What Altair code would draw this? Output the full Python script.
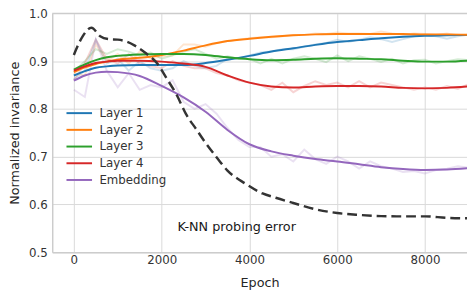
import altair as alt
import pandas as pd

series_names = ["Layer 1", "Layer 2", "Layer 3", "Layer 4", "Embedding"]
series_colors = ["#1f77b4", "#ff7f0e", "#2ca02c", "#d62728", "#9467bd"]

# smoothed curves
smooth_epochs = [0, 250, 500, 750, 1000, 1500, 2000, 2500, 3000, 3500, 4000,
                 4500, 5000, 5500, 6000, 6500, 7000, 7500, 8000, 8500, 9000]
smooth_layer1 = [0.870, 0.879, 0.886, 0.889, 0.891, 0.892, 0.892, 0.892, 0.896, 0.903, 0.911,
                 0.920, 0.927, 0.934, 0.940, 0.944, 0.948, 0.951, 0.953, 0.954, 0.955]
smooth_layer2 = [0.877, 0.887, 0.894, 0.899, 0.903, 0.907, 0.913, 0.922, 0.933, 0.942, 0.947,
                 0.951, 0.954, 0.956, 0.957, 0.957, 0.957, 0.957, 0.956, 0.956, 0.955]
smooth_layer3 = [0.882, 0.893, 0.902, 0.908, 0.911, 0.914, 0.915, 0.915, 0.913, 0.908, 0.904,
                 0.902, 0.903, 0.905, 0.906, 0.905, 0.904, 0.901, 0.899, 0.899, 0.901]
smooth_layer4 = [0.880, 0.889, 0.896, 0.899, 0.901, 0.901, 0.899, 0.895, 0.888, 0.870, 0.855,
                 0.847, 0.845, 0.847, 0.848, 0.848, 0.847, 0.844, 0.843, 0.844, 0.847]
smooth_embed = [0.859, 0.870, 0.876, 0.878, 0.877, 0.869, 0.848, 0.824, 0.794, 0.756, 0.726,
                0.711, 0.702, 0.695, 0.690, 0.684, 0.678, 0.674, 0.672, 0.673, 0.676]

# raw (noisy) curves
raw_epochs = [0, 250, 500, 750, 1000, 1250, 1500, 1750, 2000, 2250, 2500, 2750, 3000,
              3250, 3500, 3750, 4000, 4250, 4500, 4750, 5000, 5250, 5500, 5750, 6000,
              6250, 6500, 6750, 7000, 7250, 7500, 7750, 8000, 8250, 8500, 8750, 9000]
raw_layer1 = [0.862, 0.880, 0.945, 0.895, 0.905, 0.880, 0.900, 0.885, 0.880, 0.885, 0.900,
              0.890, 0.885, 0.890, 0.905, 0.905, 0.912, 0.918, 0.920, 0.925, 0.925, 0.930,
              0.935, 0.938, 0.945, 0.940, 0.945, 0.950, 0.946, 0.940, 0.946, 0.952, 0.955,
              0.952, 0.947, 0.952, 0.956]
raw_layer2 = [0.875, 0.870, 0.935, 0.900, 0.915, 0.895, 0.920, 0.905, 0.910, 0.912, 0.935,
              0.935, 0.930, 0.938, 0.942, 0.945, 0.948, 0.950, 0.950, 0.952, 0.955, 0.955,
              0.958, 0.957, 0.960, 0.958, 0.958, 0.957, 0.962, 0.958, 0.955, 0.958, 0.957,
              0.955, 0.958, 0.954, 0.955]
raw_layer3 = [0.878, 0.900, 0.925, 0.915, 0.925, 0.920, 0.912, 0.918, 0.905, 0.912, 0.920,
              0.925, 0.915, 0.905, 0.910, 0.905, 0.905, 0.895, 0.905, 0.895, 0.905, 0.910,
              0.905, 0.898, 0.912, 0.900, 0.910, 0.905, 0.898, 0.905, 0.895, 0.902, 0.903,
              0.895, 0.900, 0.904, 0.902]
raw_layer4 = [0.860, 0.895, 0.945, 0.905, 0.895, 0.915, 0.895, 0.890, 0.885, 0.900, 0.890,
              0.885, 0.885, 0.875, 0.870, 0.860, 0.855, 0.850, 0.840, 0.855, 0.835, 0.848,
              0.858, 0.850, 0.855, 0.845, 0.858, 0.845, 0.855, 0.850, 0.845, 0.840, 0.845,
              0.840, 0.848, 0.842, 0.852]
raw_embed = [0.840, 0.825, 0.945, 0.880, 0.845, 0.875, 0.840, 0.850, 0.845, 0.860, 0.815,
             0.800, 0.810, 0.790, 0.760, 0.735, 0.720, 0.720, 0.700, 0.705, 0.690, 0.715,
             0.695, 0.685, 0.700, 0.690, 0.675, 0.690, 0.680, 0.675, 0.668, 0.670, 0.665,
             0.672, 0.675, 0.680, 0.677]

# K-NN probing error (dashed)
knn_epochs = [0, 200, 400, 600, 800, 1000, 1200, 1400, 1650, 1900, 2100, 2350, 2550, 2800,
              3000, 3250, 3500, 3900, 4300, 4600, 5000, 5500, 6000, 6500, 7000, 7500,
              8000, 8500, 9000]
knn_error = [0.913, 0.952, 0.970, 0.952, 0.946, 0.945, 0.941, 0.932, 0.916, 0.895, 0.866,
             0.828, 0.790, 0.756, 0.729, 0.699, 0.671, 0.644, 0.623, 0.614, 0.603, 0.590,
             0.582, 0.578, 0.5755, 0.575, 0.575, 0.572, 0.571]

x_ticks = [0, 2000, 4000, 6000, 8000]
y_ticks = [0.5, 0.6, 0.7, 0.8, 0.9, 1.0]
x_domain = [-493, 8958]
y_domain = [0.5, 1.0]
annotation = {"text": "K-NN probing error", "epoch": 2360, "value": 0.553}

smooth_sets = [smooth_layer1, smooth_layer2, smooth_layer3, smooth_layer4, smooth_embed]
raw_sets = [raw_layer1, raw_layer2, raw_layer3, raw_layer4, raw_embed]

smooth_rows, raw_rows = [], []
for name, vals in zip(series_names, smooth_sets):
    for e, v in zip(smooth_epochs, vals):
        smooth_rows.append({"epoch": e, "value": v, "series": name})
for name, vals in zip(series_names, raw_sets):
    for e, v in zip(raw_epochs, vals):
        raw_rows.append({"epoch": e, "value": v, "series": name})
smooth_df = pd.DataFrame(smooth_rows)
raw_df = pd.DataFrame(raw_rows)
knn_df = pd.DataFrame({"epoch": knn_epochs, "value": knn_error})

FONT = "DejaVu Sans"
W, H = 422, 243

xscale = alt.Scale(domain=x_domain, nice=False, zero=False)
yscale = alt.Scale(domain=y_domain, nice=False, zero=False)
cscale = alt.Scale(domain=series_names, range=series_colors)

legend = alt.Legend(title=None, orient="none", legendX=20, legendY=94,
                    symbolType="M-2,0H2", symbolSize=169, symbolStrokeWidth=2,
                    symbolOpacity=1, labelFontSize=12, labelFont=FONT,
                    labelColor="#333333", rowPadding=3, padding=0, labelOffset=13)

x_axis = alt.Axis(values=x_ticks, format="d", title="Epoch", ticks=False,
                  labelPadding=3, titleY=31, titleBaseline="middle")
y_axis = alt.Axis(values=y_ticks, format=".1f", title="Normalized invariance",
                  ticks=False, labelPadding=5, titleX=-38, titleY=H / 2,
                  titleBaseline="middle", titleAngle=270)

raw = alt.Chart(raw_df).mark_line(strokeWidth=2, opacity=0.2, clip=True).encode(
    x=alt.X("epoch:Q", scale=xscale, axis=x_axis),
    y=alt.Y("value:Q", scale=yscale, axis=y_axis),
    color=alt.Color("series:N", scale=cscale, sort=series_names, legend=legend),
    detail="series:N",
)

smooth = alt.Chart(smooth_df).mark_line(strokeWidth=2, interpolate="monotone", clip=True).encode(
    x=alt.X("epoch:Q", scale=xscale),
    y=alt.Y("value:Q", scale=yscale),
    color=alt.Color("series:N", scale=cscale, sort=series_names, legend=legend),
)

knn = alt.Chart(knn_df).mark_line(color="#333333", strokeWidth=2.5, strokeDash=[10, 5],
                                  interpolate="monotone", clip=True).encode(
    x=alt.X("epoch:Q", scale=xscale),
    y=alt.Y("value:Q", scale=yscale),
)

label = alt.Chart(pd.DataFrame([annotation])).mark_text(
    align="left", baseline="middle", fontSize=13, font=FONT, color="#1a1a1a"
).encode(
    x=alt.X("epoch:Q", scale=xscale),
    y=alt.Y("value:Q", scale=yscale),
    text="text:N",
)

top_spine = alt.Chart(pd.DataFrame({"value": [1.0]})).mark_rule(
    color="#cccccc", strokeWidth=1.5
).encode(y=alt.Y("value:Q", scale=yscale))

chart = alt.layer(raw, smooth, knn, label, top_spine).properties(
    width=W, height=H,
    autosize=alt.AutoSizeParams(type="none"),
    padding={"left": 45, "top": 3, "right": 0, "bottom": 37},
).configure_view(stroke=None).configure_axis(
    labelFont=FONT, titleFont=FONT, labelFontSize=12, titleFontSize=13,
    labelColor="#333333", titleColor="#262626", titleFontWeight="normal",
    gridColor="#d9d9d9", gridWidth=1, domainColor="#cccccc", domainWidth=1.5,
)

chart.save("out.html", embed_options={"renderer": "svg", "actions": False})
